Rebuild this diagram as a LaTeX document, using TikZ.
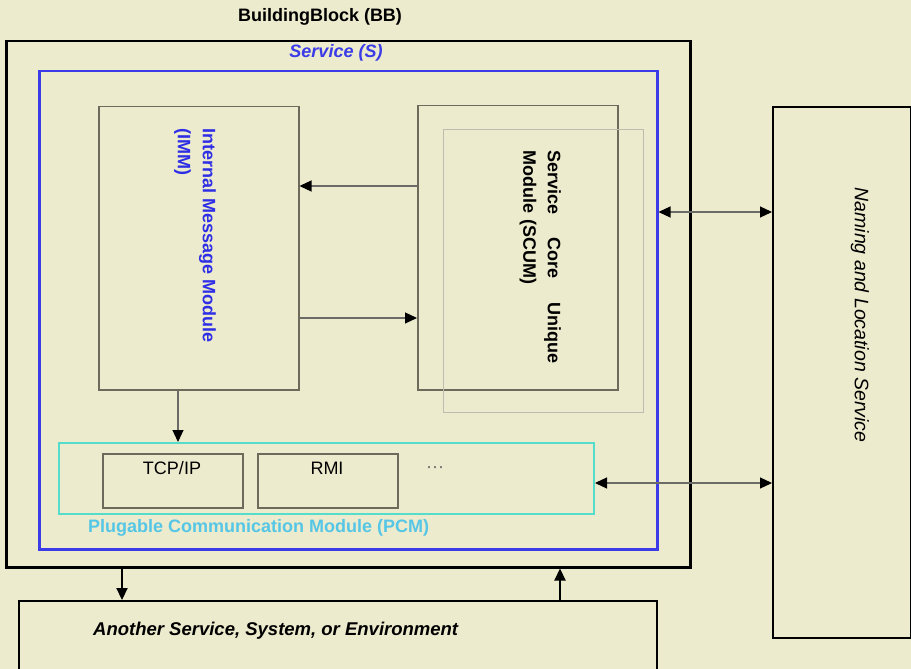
\documentclass[tikz,border=0pt]{standalone}
\usepackage{fontspec}
\setmainfont{Liberation Sans}
\usetikzlibrary{arrows.meta}

\begin{document}
\begin{tikzpicture}[x=1pt,y=-1pt,
  txt/.style={inner sep=0pt,font=\fontsize{18}{25}\selectfont},
  bbbox/.style={draw=black,line width=2.5pt,inner sep=0pt,anchor=north west},
  svcbox/.style={draw=svc,line width=2.5pt,inner sep=0pt,anchor=north west},
  modbox/.style={draw=modline,line width=1.5pt,inner sep=0pt,anchor=north west},
  shadebox/.style={draw=shade,line width=1pt,inner sep=0pt,anchor=north west},
  pcmbox/.style={draw=pcmline,line width=2pt,inner sep=0pt,anchor=north west},
  extbox/.style={draw=black,line width=2pt,inner sep=0pt,anchor=north west},
  flow/.style={draw=conn,line width=1.2pt,-{Triangle[color=black,length=12pt,width=11pt]}},
  dflow/.style={draw=conn,line width=1.2pt,{Triangle[color=black,length=12pt,width=11pt]}-{Triangle[color=black,length=12pt,width=11pt]}},
  bflow/.style={draw=black,line width=2.2pt,-{Triangle[length=12pt,width=11pt]}}]
\definecolor{bg}{HTML}{EDEBCD}\definecolor{svc}{HTML}{3B3BE8}
\definecolor{immtext}{HTML}{2E2EE6}\definecolor{modline}{HTML}{6E6A5B}
\definecolor{shade}{HTML}{BEBCAF}\definecolor{pcmline}{HTML}{55DDCB}
\definecolor{pcmtext}{HTML}{55C6E6}\definecolor{conn}{HTML}{6A6A66}
\fill[bg] (0,0) rectangle (911,669);
\useasboundingbox (0,0) rectangle (911,669);
% boxes
\node[bbbox,minimum width=684pt,minimum height=526pt] (bb) at (5,40) {};
\node[svcbox,minimum width=618pt,minimum height=478pt] (srv) at (38,70) {};
\node[modbox,minimum width=200pt,minimum height=283pt] (imm) at (98,106) {};
\node[modbox,minimum width=200pt,minimum height=284pt] (scum) at (417,105) {};
\node[shadebox,minimum width=200pt,minimum height=283pt] (scumsh) at (443,129) {};
\node[pcmbox,minimum width=535pt,minimum height=71pt] (pcm) at (58,442) {};
\node[modbox,minimum width=140pt,minimum height=54pt] (tcp) at (102,453) {};
\node[modbox,minimum width=140pt,minimum height=54pt] (rmi) at (257,453) {};
\node[extbox,minimum width=138pt,minimum height=531pt] (nls) at (772,106) {};
\node[extbox,minimum width=638pt,minimum height=120pt] (env) at (18,600) {};
% texts
\node[txt,font=\fontsize{18}{25}\selectfont\bfseries] (title) at (320,17) {BuildingBlock (BB)};
\node[txt,font=\fontsize{18}{25}\selectfont\bfseries\itshape,text=svc] (srvlbl) at (336,53) {Service (S)};
\node[txt,font=\fontsize{18}{25}\selectfont\bfseries,text=immtext,rotate=-90,anchor=north west,align=left] (immtxt) at (216,128) {Internal Message Module\\(IMM)};
\node[txt,font=\fontsize{18}{24.5}\selectfont\bfseries,rotate=-90,anchor=north west,text width=213pt,align=left] (scumtxt) at (561,150) {Service\hfill Core\hfill Unique\\Module (SCUM)};
\node[txt,font=\fontsize{18}{25}\selectfont\bfseries,text=pcmtext,anchor=west] (pcmlbl) at (88,528) {Plugable Communication Module (PCM)};
\node[txt] (tcptxt) at (172,468) {TCP/IP};
\node[txt] (rmitxt) at (327,468) {RMI};
\node[txt,text=black!60] (more) at (435,470) {···};
\node[txt,font=\fontsize{19.5}{25}\selectfont\itshape,rotate=-90] (nlstxt) at (860,315) {Naming and Location Service};
\node[txt,font=\fontsize{18.5}{25}\selectfont\bfseries\itshape,anchor=west] (envtxt) at (93,631) {Another Service, System, or Environment};
% connectors
\coordinate (r1) at (0,186);\coordinate (r2) at (0,318);
\coordinate (r3) at (0,212);\coordinate (r4) at (0,483);
\coordinate (c1) at (178,0);\coordinate (c2) at (122,0);\coordinate (c3) at (560,0);
\draw[flow] (scum.west |- r1) -- (imm.east |- r1);
\draw[flow] (imm.east |- r2) -- (scum.west |- r2);
\draw[flow] (imm.south -| c1) -- (pcm.north -| c1);
\draw[dflow] (srv.east |- r3) -- (nls.west |- r3);
\draw[dflow] (pcm.east |- r4) -- (nls.west |- r4);
\draw[bflow] (bb.south -| c2) -- (env.north -| c2);
\draw[bflow] (env.north -| c3) -- (bb.south -| c3);
\end{tikzpicture}
\end{document}
